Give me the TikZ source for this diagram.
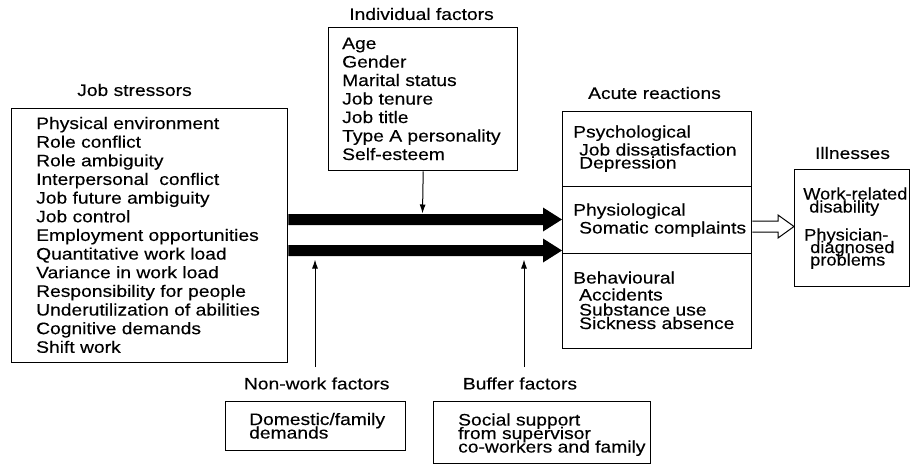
\documentclass[tikz,border=0pt]{standalone}
\usepackage{fontspec}
\setmainfont{Liberation Sans}[FakeStretch=1.16, FakeBold=0.25]
\newfontfamily\narrowfont{Liberation Sans}[FakeStretch=1.1, FakeBold=0.25]
\usetikzlibrary{arrows.meta}
\begin{document}
\begin{tikzpicture}[x=1pt,y=-1pt,
  box/.style={draw, line width=1.4pt, inner sep=0pt, anchor=north west},
  txt/.style={anchor=base west, inner sep=0pt, font=\fontsize{16.6}{16.6}\selectfont},
  ntxt/.style={anchor=base west, inner sep=0pt, font=\narrowfont\fontsize{16.6}{16.6}\selectfont},
  lbl/.style={anchor=center, inner sep=0pt, font=\fontsize{16.6}{16.6}\selectfont},
  thinarrow/.style={line width=1pt, -{Latex[length=9pt,width=6pt]}},
  thick arrow/.style={fill=black},
  open arrow/.style={draw, line width=1pt}]
\useasboundingbox (0,0) rectangle (912,466);

% boxes
\node[box, minimum width=276pt, minimum height=254pt] (js) at (11,108) {};
\node[box, minimum width=189pt, minimum height=143pt] (ind) at (328,27) {};
\node[box, minimum width=189pt, minimum height=237pt] (acute) at (562,111) {};
\node[box, minimum width=115pt, minimum height=117pt] (ill) at (794,169) {};
\node[box, minimum width=180pt, minimum height=49pt] (dom) at (225,401) {};
\node[box, minimum width=217pt, minimum height=62pt] (buf) at (433,401) {};

% dividers in acute reactions box
\draw[line width=1pt] (acute.west |- 0,186) -- (acute.east |- 0,186);
\draw[line width=1pt] (acute.west |- 0,253) -- (acute.east |- 0,253);

% headings
\node[lbl] (jsl) at (134.5,90) {Job stressors};
\node[lbl] (indl) at (421.5,14) {Individual factors};
\node[lbl] (acl) at (654.5,93) {Acute reactions};
\node[lbl] (ill-l) at (852.5,153) {Illnesses};
\node[lbl] (nwl) at (316.7,383.5) {Non-work factors};
\node[lbl] (bfl) at (520,383.5) {Buffer factors};

% job stressors list
\foreach \t [count=\i from 0] in {Physical environment, Role conflict, Role ambiguity,
  Interpersonal\ \ conflict, Job future ambiguity, Job control, Employment opportunities,
  Quantitative work load, Variance in work load, Responsibility for people,
  Underutilization of abilities, Cognitive demands, Shift work}
  \node[txt] (js\i) at (36, 129+18.65*\i) {\t};

% individual factors list
\foreach \t [count=\i from 0] in {Age, Gender, Marital status, Job tenure, Job title,
  Type A personality, Self-esteem}
  \node[txt] (ind\i) at (342, 49+18.5*\i) {\t};

% acute reactions
\node[txt] (a1) at (573,137.5) {Psychological};
\node[txt] (a2) at (579,155.5) {Job dissatisfaction};
\node[txt] (a3) at (579,168.5) {Depression};
\node[txt] (a4) at (573,215.5) {Physiological};
\node[txt] (a5) at (579,233.5) {Somatic complaints};
\node[txt] (a6) at (573,283.5) {Behavioural};
\node[txt] (a7) at (579,300.5) {Accidents};
\node[txt] (a8) at (579,315.5) {Substance use};
\node[txt] (a9) at (579,329) {Sickness absence};

% illnesses
\node[ntxt] (i1) at (803,199.5) {Work-related};
\node[ntxt] (i2) at (809,212.5) {disability};
\node[ntxt] (i3) at (804,240.5) {Physician-};
\node[ntxt] (i4) at (810,253) {diagnosed};
\node[ntxt] (i5) at (810,265.5) {problems};

% non-work and buffer
\node[txt] (d1) at (249,425) {Domestic/family};
\node[txt] (d2) at (249,438.5) {demands};
\node[txt] (b1) at (458,425.5) {Social support};
\node[txt] (b2) at (458,439) {from supervisor};
\node[txt] (b3) at (458,452.5) {co-workers and family};

% thick arrows
\fill[thick arrow] (js.east |- 0,214) -- (543,214) -- (543,207.5) -- (acute.west |- 0,219.5)
  -- (543,231.5) -- (543,225) -- (js.east |- 0,225) -- cycle;
\fill[thick arrow] (js.east |- 0,245) -- (543,245) -- (543,238.5) -- (acute.west |- 0,250.5)
  -- (543,262.5) -- (543,256) -- (js.east |- 0,256) -- cycle;

% thin arrows
\coordinate (indtip) at (422.5,213.5);
\draw[thinarrow] (ind.south) -- (indtip);
\coordinate (nwfoot) at (315,367);
\coordinate (nwtip) at (315,259.5);
\draw[thinarrow] (nwfoot) -- (nwtip);
\coordinate (bffoot) at (524,367);
\coordinate (bftip) at (524,259.5);
\draw[thinarrow] (bffoot) -- (bftip);

% open arrow to illnesses
\draw[open arrow] (acute.east |- 0,221) -- (778,221) -- (778,215) -- (ill.west |- 0,226.5)
  -- (778,238) -- (778,232) -- (acute.east |- 0,232);
\end{tikzpicture}
\end{document}
